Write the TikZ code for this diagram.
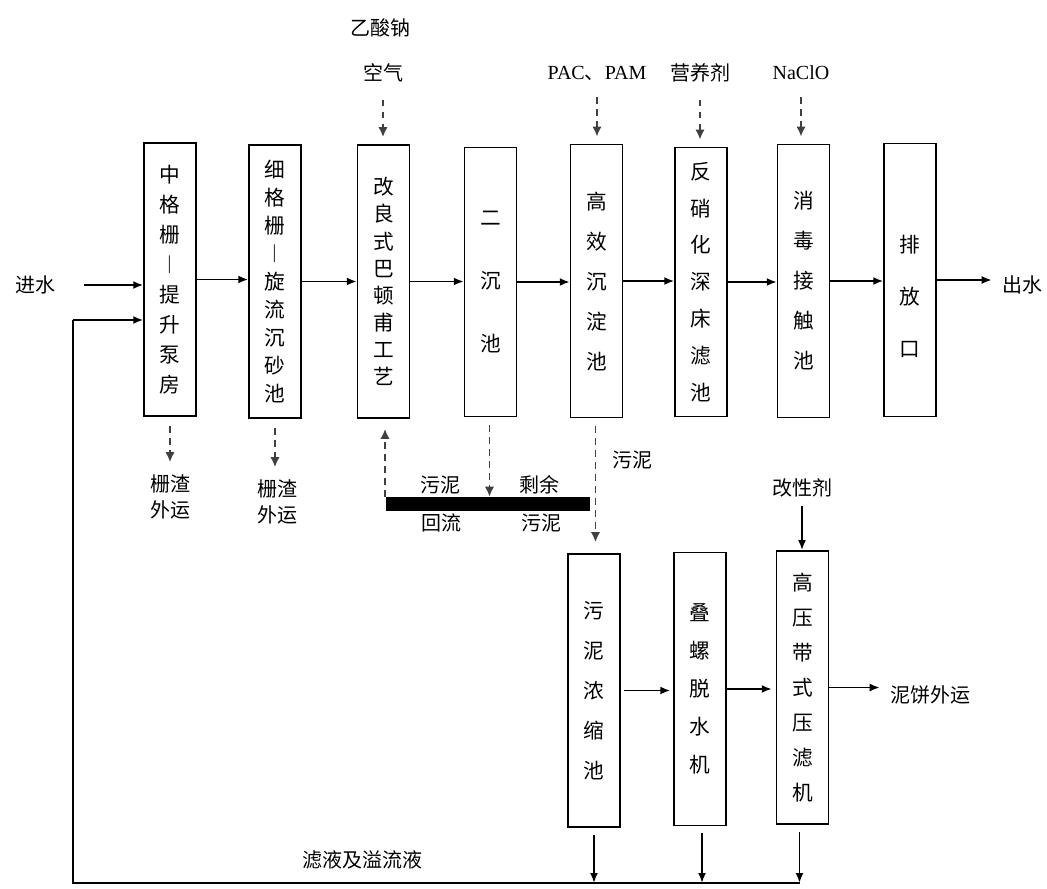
\documentclass[tikz,border=0pt]{standalone}
\usepackage{fontspec}
\setmainfont{Noto Sans CJK SC}
\newfontfamily\lser{Liberation Serif}
\usetikzlibrary{arrows.meta,calc}
\tikzset{
  box/.style={draw,line width=1.1pt,inner sep=0pt,align=center,minimum width=39pt,minimum height=205pt},
  vs/.style={font=\fontsize{15.5}{#1}\selectfont},
  lbl/.style={inner sep=0pt,align=center,font=\fontsize{15}{20}\selectfont},
  arr/.style={line width=1.4pt,-{Latex[length=7.5pt,width=6pt]}},
  darr/.style={line width=1.4pt,black!75,dash pattern=on 5pt off 4pt,-{Latex[length=7.5pt,width=7pt]}},
  plain/.style={line width=1.4pt}
}
\begin{document}
\begin{tikzpicture}[x=0.75pt,y=-0.75pt]
\useasboundingbox (0,0) rectangle (1047,889);
% main line boxes
\node[box,vs=22.5] (b1) at (170,279.5) {中\\格\\栅\\︱\\提\\升\\泵\\房};
\node[box,vs=21] (b2) at (275,281.5) {细\\格\\栅\\︱\\旋\\流\\沉\\砂\\池};
\node[box,vs=20.3] (b3) at (383.5,281.5) {改\\良\\式\\巴\\顿\\甫\\工\\艺};
\node[box,vs=47,minimum height=202pt] (b4) at (490.5,282) {二\\沉\\池};
\node[box,vs=30] (b5) at (596.5,281) {高\\效\\沉\\淀\\池};
\node[box,vs=27.7,minimum height=202pt] (b6) at (701,282) {反\\硝\\化\\深\\床\\滤\\池};
\node[box,vs=30] (b7) at (803.5,281) {消\\毒\\接\\触\\池};
\node[box,label={[inner sep=0pt,align=center,font=\fontsize{15.5}{39}\selectfont,yshift=-12pt]center:排\\放\\口}] (b8) at (910,280) {};
% sludge boxes
\node[box,vs=30] (b9) at (594,690.5) {污\\泥\\浓\\缩\\池};
\node[box,vs=28.5] (b10) at (700,689) {叠\\螺\\脱\\水\\机};
\node[box,vs=26.3] (b11) at (802.5,687.5) {高\\压\\带\\式\\压\\滤\\机};
% labels
\node[lbl] (in) at (36,285) {进水};
\node[lbl] (out) at (1022,285) {出水};
\node[lbl] (naac) at (380,28) {乙酸钠};
\node[lbl] (air) at (383,73) {空气};
\node[lbl] (pac) at (597,73) {{\lser PAC}、{\lser PAM}};
\node[lbl] (nut) at (700,73) {营养剂};
\node[lbl] (nacl) at (801,73) {\lser NaClO};
\node[lbl] (s1) at (170,497) {栅渣\\外运};
\node[lbl] (s2) at (277,502) {栅渣\\外运};
\node[lbl] (sl) at (632,460) {污泥};
\node[lbl] (mod) at (802,488) {改性剂};
\node[lbl] (cake) at (930,695) {泥饼外运};
\node[lbl] (filt) at (362,860) {滤液及溢流液};
\node[lbl] (l1) at (440,485) {污泥};
\node[lbl] (l2) at (441,523) {回流};
\node[lbl] (l3) at (539,485) {剩余};
\node[lbl] (l4) at (541,523) {污泥};
% bar
\node[fill=black,inner sep=0pt,minimum width=153pt,minimum height=10.5pt] (bar) at (488,504) {};
% main flow arrows
\draw[arr] ($(in.east)+(28,0)$) -- (in.east -| b1.west);
\draw[arr] (b1.east) -- (b1.east -| b2.west);
\draw[arr] (b2.east) -- (b2.east -| b3.west);
\draw[arr] (b3.east) -- (b3.east -| b4.west);
\draw[arr] (b4.east) -- (b4.east -| b5.west);
\draw[arr] (b5.east) -- (b5.east -| b6.west);
\draw[arr] (b6.east) -- (b6.east -| b7.west);
\draw[arr] (b7.east) -- (b7.east -| b8.west);
\draw[arr] (b8.east) -- ($(b8.east -| out.west)+(-10,0)$);
% dosing arrows
\draw[darr] ($(air.south)+(0,17)$) -- ($(air.south |- b3.north)+(0,-7)$);
\draw[darr] ($(pac.south)+(0,17)$) -- ($(pac.south |- b5.north)+(0,-7)$);
\draw[darr] ($(nut.south)+(0,17)$) -- ($(nut.south |- b6.north)+(0,-7)$);
\draw[darr] ($(nacl.south)+(0,17)$) -- ($(nacl.south |- b7.north)+(0,-7)$);
% screenings
\draw[darr] ($(b1.south)+(0,9)$) -- ($(b1.south |- s1.north)+(0,-12)$);
\draw[darr] ($(b2.south)+(0,9)$) -- ($(b2.south |- s2.north)+(0,-12)$);
% sludge return and excess
\draw[darr] ($(b3.south |- bar.north)+(1.5,0)$) -- ($(b3.south)+(1.5,10)$);
\draw[darr] ($(b4.south)+(-1,8)$) -- ($(b4.south |- bar.north)+(-1,0)$);
\draw[darr] ($(b5.south)+(-1,8)$) -- ($(b5.south |- b9.north)+(-1,-11)$);
% sludge line
\draw[arr] ($(mod.south)+(0,8)$) -- (mod.south |- b11.north);
\draw[arr] ($(b9.east)+(3,0)$) -- ($(b9.east -| b10.west)+(-3,0)$);
\draw[arr] (b10.east) -- ($(b10.east -| b11.west)+(-4,0)$);
\draw[arr] (b11.east) -- ($(b11.east -| cake.west)+(-10,0)$);
% filtrate return
\coordinate (r1) at (73,320);
\coordinate (r2) at (73,883);
\draw[arr] (r1) -- (r1 -| b1.west);
\draw[plain] (r1) -- (r2) -- ($(r2 -| b11.south)+(-3,0)$);
\draw[arr] ($(b9.south)+(0,7)$) -- (b9.south |- r2);
\draw[arr] ($(b10.south)+(2,7)$) -- ($(b10.south |- r2)+(2,0)$);
\draw[arr] ($(b11.south)+(-3,7)$) -- ($(b11.south |- r2)+(-3,0)$);
\end{tikzpicture}
\end{document}
